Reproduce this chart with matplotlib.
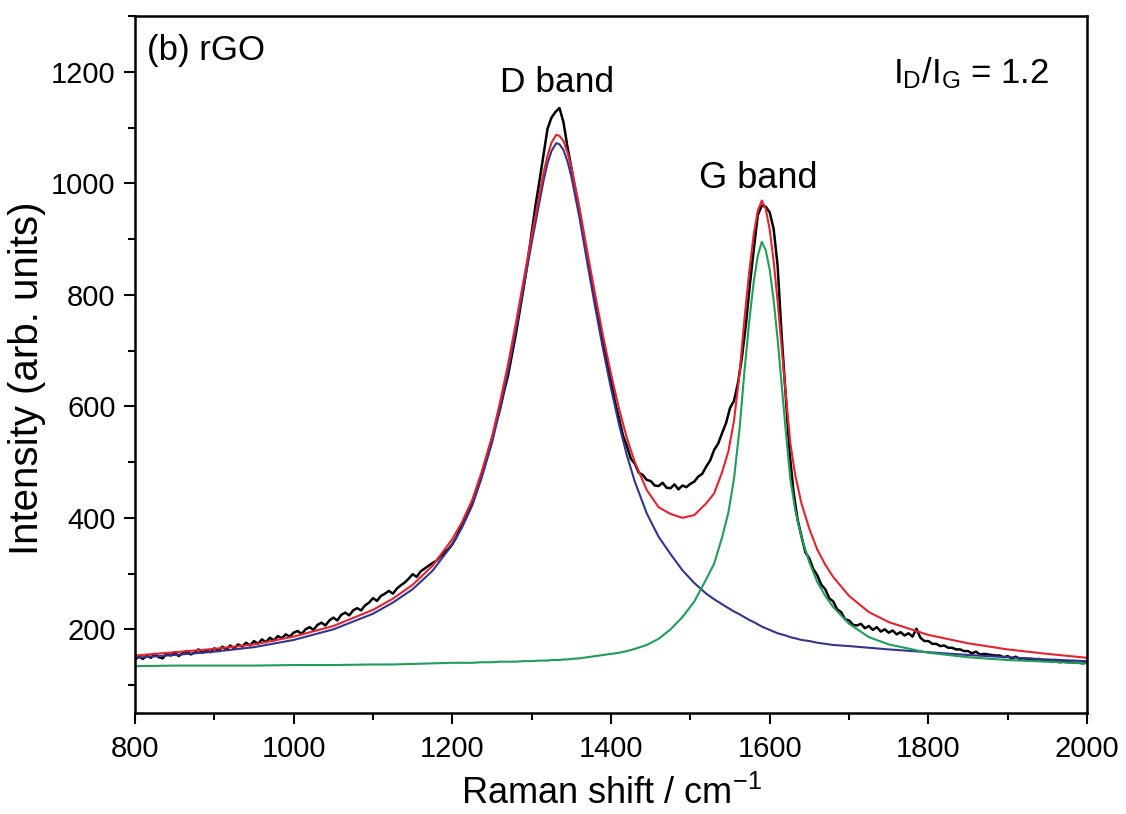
import numpy as np
import matplotlib.pyplot as plt
from matplotlib.ticker import MultipleLocator

plt.rcParams['font.family'] = ['Liberation Sans', 'DejaVu Sans']
plt.rcParams['mathtext.fontset'] = 'custom'
plt.rcParams['mathtext.rm'] = 'Liberation Sans'
plt.rcParams['mathtext.it'] = 'Liberation Sans'

# fitted curves
x_fit = [800, 850, 900, 950, 1000, 1050, 1100, 1125, 1150, 1175,
         1200, 1212, 1225, 1237, 1250, 1260, 1270, 1280, 1290, 1300,
         1310, 1315, 1320, 1325, 1331, 1335, 1340, 1345, 1350, 1360,
         1370, 1380, 1390, 1400, 1410, 1420, 1430, 1445, 1460, 1475,
         1490, 1505, 1520, 1530, 1540, 1548, 1555, 1562, 1568, 1574,
         1580, 1585, 1590, 1595, 1600, 1605, 1610, 1615, 1620, 1626,
         1632, 1640, 1650, 1660, 1670, 1680, 1700, 1725, 1750, 1800,
         1850, 1900, 1950, 2000]
d_band = [149, 154, 160, 168, 181, 200, 228, 248, 272, 305,
          352, 382, 422, 472, 535, 595, 662, 737, 815, 893,
          968, 1005, 1036, 1058, 1072, 1070, 1060, 1040, 1012, 940,
          858, 778, 702, 632, 568, 512, 465, 408, 366, 335,
          306, 283, 264, 254, 245, 238, 232, 227, 222, 217,
          213, 209, 205, 202, 199, 196, 193, 191, 189, 186,
          184, 181, 179, 176, 174, 172, 170, 167, 164, 159,
          154, 150, 146, 143]
g_band = [134, 135, 135, 135, 136, 136, 137, 137, 138, 139,
          140, 140, 140, 141, 141, 142, 142, 142, 143, 143,
          144, 144, 144, 145, 145, 145, 146, 146, 147, 148,
          150, 152, 154, 156, 158, 161, 165, 172, 183, 200,
          222, 250, 290, 318, 365, 410, 470, 560, 660, 750,
          825, 870, 895, 880, 845, 790, 720, 640, 560, 470,
          415, 365, 320, 285, 260, 240, 210, 186, 173, 158,
          150, 145, 142, 139]
fit_sum = [153, 159, 165, 173, 187, 206, 235, 255, 280, 314,
           362, 392, 432, 483, 546, 607, 674, 749, 828, 906,
           982, 1019, 1050, 1073, 1087, 1085, 1076, 1056, 1029, 958,
           878, 800, 726, 658, 596, 543, 500, 450, 419, 407,
           400, 405, 426, 444, 482, 520, 574, 659, 754, 839,
           910, 951, 969, 954, 917, 860, 788, 707, 626, 534,
           478, 426, 380, 343, 316, 294, 260, 231, 213, 190,
           175, 164, 156, 149]

# measured spectrum, every 5 cm-1 from 800 to 2000
x_raw = list(range(800, 2001, 5))
y_raw = [146, 151, 147, 153, 149, 156, 150, 148, 157, 153,
         159, 152, 157, 161, 155, 158, 164, 158, 162, 159,
         166, 161, 169, 164, 171, 166, 173, 169, 176, 171,
         179, 174, 182, 177, 185, 180, 188, 184, 191, 187,
         194, 197, 192, 200, 204, 199, 208, 212, 207, 216,
         221, 216, 226, 230, 225, 234, 238, 234, 243, 248,
         256, 251, 260, 264, 269, 264, 273, 279, 284, 291,
         299, 294, 304, 309, 314, 319, 323, 331, 338, 344,
         353, 365, 381, 395, 411, 425, 446, 467, 491, 514,
         540, 569, 594, 626, 654, 691, 729, 771, 814, 861,
         912, 962, 1006, 1052, 1098, 1118, 1128, 1135, 1110, 1066,
         1028, 988, 952, 908, 870, 826, 792, 750, 717, 680,
         647, 608, 579, 548, 529, 506, 497, 481, 477, 468,
         466, 458, 457, 463, 454, 453, 460, 451, 458, 455,
         461, 465, 474, 479, 492, 503, 522, 533, 552, 570,
         597, 610, 642, 688, 747, 818, 882, 943, 960, 958,
         948, 918, 852, 728, 622, 518, 447, 398, 367, 338,
         327, 308, 297, 280, 272, 256, 250, 236, 231, 218,
         216, 208, 207, 210, 202, 206, 199, 204, 196, 200,
         194, 198, 191, 195, 189, 193, 187, 201, 185, 179,
         179, 174, 174, 170, 171, 167, 167, 164, 164, 161,
         161, 157, 160, 155, 156, 155, 154, 153, 153, 150,
         152, 148, 151, 147, 148, 147, 147, 144, 147, 143,
         145, 142, 145, 141, 142, 141, 141, 140, 140, 139,
         141]

fig = plt.figure(figsize=(11.26, 8.14), dpi=100)
ax = fig.add_axes([0.1199, 0.1241, 0.8455, 0.8562])

ax.plot(x_raw, y_raw, color='black', lw=1.8)
ax.plot(x_fit, d_band, color='#34348f', lw=1.5)
ax.plot(x_fit, g_band, color='#1f9e5a', lw=1.5)
ax.plot(x_fit, fit_sum, color='#e5232f', lw=1.5)

ax.set_xlim(800, 2000)
ax.set_ylim(50, 1300)
ax.xaxis.set_major_locator(MultipleLocator(200))
ax.xaxis.set_minor_locator(MultipleLocator(100))
ax.set_yticks([200, 400, 600, 800, 1000, 1200])
ax.yaxis.set_minor_locator(MultipleLocator(100))
ax.tick_params(which='both', direction='out', width=1.5, labelsize=21,
               top=False, right=False)
ax.tick_params(which='major', length=8)
ax.tick_params(which='minor', length=5)
ax.tick_params(axis='x', which='major', pad=8)
ax.tick_params(axis='y', which='major', pad=6)
for s in ax.spines.values():
    s.set_linewidth(1.8)

ax.set_xlabel(r'Raman shift / cm$^{-1}$', fontsize=26, labelpad=9)
ax.set_ylabel('Intensity (arb. units)', fontsize=29)
ax.yaxis.set_label_coords(-0.094, 0.48)

ax.text(1332, 1164, 'D band', fontsize=25.5, ha='center', va='baseline')
ax.text(1586, 992, 'G band', fontsize=26, ha='center', va='baseline')
ax.text(0.013, 0.937, '(b) rGO', fontsize=25, transform=ax.transAxes,
        va='baseline')
ax.text(0.796, 0.904, r'I$_\mathrm{D}$/I$_\mathrm{G}$ = 1.2', fontsize=25,
        transform=ax.transAxes, va='baseline')

fig.savefig('out.png', dpi=100)
